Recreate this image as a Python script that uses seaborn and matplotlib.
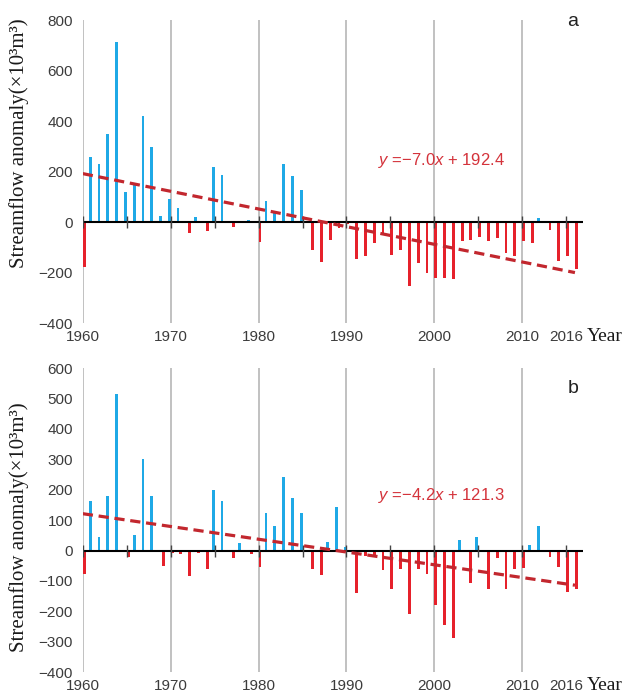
import numpy as np
import pandas as pd
import matplotlib
matplotlib.use("Agg")
import matplotlib.pyplot as plt
import matplotlib.transforms as mtransforms
import seaborn as sns

# annual streamflow anomaly, 1960-2016 (x10^3 m^3)
years = list(range(1960, 2017))

anom_a = [-178, 259, 232, 349, 714, 119, 149, 422, 299, 25,
          92, 57, -42, 20, -36, 219, 187, -19, -5, 8,
          -77, 84, 36, 231, 184, 126, -109, -159, -72, -24,
          -8, -146, -133, -82, -45, -131, -111, -251, -162, -202,
          -220, -220, -226, -76, -69, -60, -76, -62, -122, -135,
          -76, -82, 15, -31, -153, -133, -186]

anom_b = [-77, 163, 45, 178, 515, -22, 50, 302, 178, -52,
          -9, -11, -83, -9, -61, 200, 162, -23, 25, -12,
          -55, 123, 80, 243, 173, 123, -60, -79, 29, 143,
          11, -138, -18, -14, -64, -126, -59, -207, -61, -78,
          -179, -245, -286, 34, -106, 46, -125, -26, -128, -61,
          -57, 20, 82, -22, -54, -136, -125]

# linear trends, x counted in years from 1960
trend_a = (-7.0, 192.4)
trend_b = (-4.2, 121.3)

decades = [1960, 1970, 1980, 1990, 2000, 2010]
tick_labels = ["1960", "1970", "1980", "1990", "2000", "2010", "2016"]

BLUE = "#1fa9e6"
RED = "#e6212b"
TREND = "#c2272e"
TXT = "#3c3c3c"

sns.set_theme(style="white")
plt.rcParams["font.family"] = ["Liberation Sans", "DejaVu Sans"]
plt.rcParams["mathtext.fontset"] = "custom"
plt.rcParams["mathtext.it"] = "Liberation Sans:italic"
plt.rcParams["mathtext.rm"] = "Liberation Sans"


def draw_panel(ax, vals, trend, yticks, letter, letter_y, eq_pos, label_y):
    df = pd.DataFrame({"year": years, "anomaly": vals})
    df["sign"] = np.where(df["anomaly"] >= 0, "pos", "neg")

    for d in decades:
        ax.axvline(d, color="#bcbcbc", lw=1.3, zorder=0)

    sns.barplot(data=df, x="year", y="anomaly", hue="sign",
                hue_order=["pos", "neg"], palette={"pos": BLUE, "neg": RED},
                native_scale=True, width=0.64, dodge=True, errorbar=None,
                saturation=1, legend=False, ax=ax, zorder=2,
                linewidth=0, edgecolor="none")

    ax.axhline(0, color="black", lw=1.5, zorder=3)
    ax.plot(list(range(1960, 2017, 5)), [0] * 12, ls="none", marker="|",
            ms=9, mew=1.0, color="#444444", zorder=4)

    slope, inter = trend
    yr = np.array(years)
    sns.lineplot(x=yr, y=slope * (yr - 1960) + inter, color=TREND, lw=2.3,
                 linestyle=(0, (3.2, 1.8)), ax=ax, zorder=5)

    sign = "+" if inter >= 0 else "\u2212"
    ax.text(eq_pos[0], eq_pos[1],
            "$y$ =\u2212%.1f$x$ %s %.1f" % (abs(slope), sign, abs(inter)),
            color="#d4333b", fontsize=12, va="center", ha="left", zorder=6)

    ax.set_xlim(1960, 2016.9)
    ax.set_ylim(yticks[0], yticks[-1])
    ax.set_yticks(yticks)
    ax.set_xticks(decades + [2016])
    ax.set_xticklabels(tick_labels)
    ax.set_xlabel("")
    ax.set_ylabel("Streamflow anomaly(\u00d710\u00b3m\u00b3)",
                  family=["Liberation Serif", "DejaVu Serif"], fontsize=15,
                  color="#1a1a1a")
    ax.yaxis.set_label_coords(-0.108, label_y)
    ax.tick_params(length=0, labelsize=11, labelcolor=TXT)
    ax.tick_params(axis="y", pad=7)
    ax.tick_params(axis="x", pad=5)
    # last year label sits a little left of its position
    lab = ax.get_xticklabels()[-1]
    lab.set_transform(lab.get_transform() + mtransforms.ScaledTranslation(
        -9 / 100, 0, ax.figure.dpi_scale_trans))
    for s in ax.spines.values():
        s.set_visible(False)
    ax.text(1.0, 0, "Year", transform=ax.transAxes + mtransforms.ScaledTranslation(
        4 / 100, -5 / 100, ax.figure.dpi_scale_trans),
        family=["Liberation Serif", "DejaVu Serif"], fontsize=14,
        color="#1a1a1a", ha="left", va="top")
    ax.text(0.98, letter_y, letter, transform=ax.transAxes, fontsize=14,
            color="#222222", ha="center", va="center")


fig = plt.figure(figsize=(6.37, 6.98), dpi=100)
ax_a = fig.add_axes([0.130, 0.537, 0.785, 0.434])
ax_b = fig.add_axes([0.130, 0.037, 0.785, 0.4355])

draw_panel(ax_a, anom_a, trend_a, list(range(-400, 801, 200)), "a", 0.995,
           (1993.6, 243), 0.594)
draw_panel(ax_b, anom_b, trend_b, list(range(-400, 601, 100)), "b", 0.934,
           (1993.6, 181), 0.477)

fig.savefig("out.png", dpi=100)
